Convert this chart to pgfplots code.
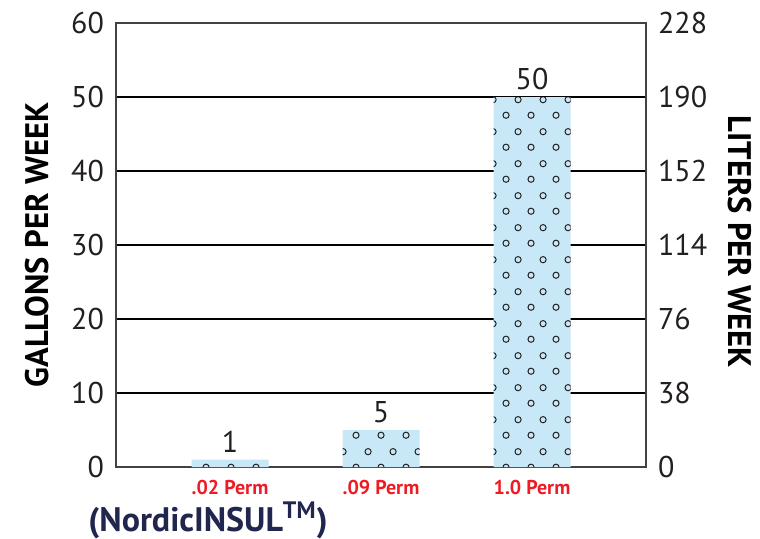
\documentclass[border=0pt]{standalone}
\usepackage{pgfplots}
\pgfplotsset{compat=1.18}
\usepackage{fontspec}
\setmainfont{PT Sans}
\usetikzlibrary{patterns}
\definecolor{barblue}{RGB}{201,232,247}
\definecolor{permred}{RGB}{237,28,36}
\definecolor{navy}{RGB}{33,38,78}
\definecolor{txt}{RGB}{35,31,32}
\pgfdeclarepatternformonly{circs}{\pgfqpoint{0pt}{0pt}}{\pgfqpoint{12.5pt}{16pt}}{\pgfqpoint{12.5pt}{16pt}}{%
  \pgfsetlinewidth{0.5pt}%
  \pgfpathcircle{\pgfqpoint{3.125pt}{4pt}}{1.6pt}%
  \pgfpathcircle{\pgfqpoint{9.375pt}{12pt}}{1.6pt}%
  \pgfusepath{stroke}}
\begin{document}
\begin{tikzpicture}
\path[use as bounding box] (-58pt,-35.5pt) rectangle (322pt,233.5pt);
\begin{axis}[
  scale only axis, width=265pt, height=222pt,
  xmin=-0.755, xmax=2.755, ymin=0, ymax=60,
  xtick={0,1,2}, xticklabels={.02 Perm,.09 Perm,1.0 Perm},
  ytick={0,10,...,50}, extra y ticks={60}, extra y tick style={grid=none},
  major tick length=0pt,
  ymajorgrids, major grid style={black, line width=1pt},
  axis line style={draw=txt!85, line width=0.65pt},
  /pgf/number format/assume math mode=true,
  ticklabel style={font=\fontsize{15}{18}\selectfont, text=txt},
  yticklabel style={xshift=-2.5pt},
  xticklabel style={font=\fontsize{10}{12}\selectfont\bfseries, text=permred, yshift=-3pt},
  ylabel={GALLONS PER WEEK},
  ylabel style={font=\fontsize{16.3}{19}\selectfont\bfseries, text=black, at={(axis description cs:-0.149,0.5)}, anchor=center},
  xlabel={(NordicINSUL\textsuperscript{TM})},
  xlabel style={font=\fontsize{17}{20}\selectfont\bfseries, text=navy, inner sep=0pt, at={(axis description cs:-0.053,-0.12)}, anchor=west},
  ybar, bar width=38.5pt, bar shift=0pt,
  nodes near coords,
  every node near coord/.append style={font=\fontsize{15}{18}\selectfont, text=txt, yshift=0pt},
]
\addplot[fill=barblue, draw=none, postaction={pattern=circs, pattern color=txt}] coordinates {(0,1) (1,5) (2,50)};
\end{axis}
\begin{axis}[
  scale only axis, width=265pt, height=222pt,
  xmin=-0.755, xmax=2.755, ymin=0, ymax=228,
  hide x axis, axis y line*=right,
  ytick={0,38,...,228}, major tick length=0pt,
  axis line style={draw=txt!85, line width=0.65pt},
  /pgf/number format/assume math mode=true,
  ticklabel style={font=\fontsize{15}{18}\selectfont, text=txt},
  yticklabel style={xshift=2.5pt},
  ylabel={LITERS PER WEEK},
  ylabel style={font=\fontsize{16.3}{19}\selectfont\bfseries, text=black, at={(axis description cs:1.177,0.507)}, anchor=center, rotate=180},
]
\end{axis}
\end{tikzpicture}
\end{document}
